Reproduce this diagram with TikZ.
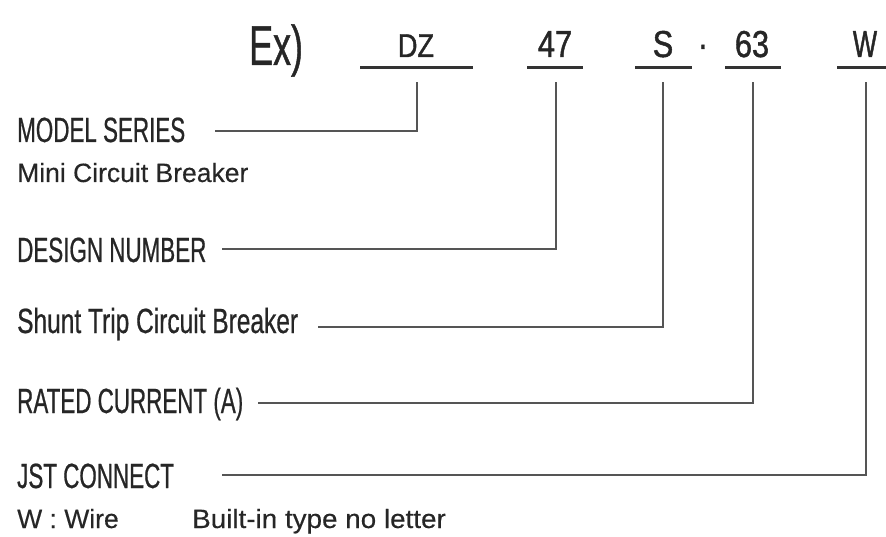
\documentclass[tikz,border=0pt]{standalone}
\usepackage{fontspec}
\setmainfont{Liberation Sans}
\newfontfamily\condA[FakeStretch=0.64,FakeBold=0.6]{Liberation Sans}
\newfontfamily\condS[FakeStretch=0.70,FakeBold=0.6]{Liberation Sans}
\newfontfamily\condB[FakeStretch=0.82,FakeBold=1.2]{Liberation Sans}
\newfontfamily\condW[FakeStretch=0.68,FakeBold=1.2]{Liberation Sans}
\newfontfamily\condE[FakeStretch=0.64,FakeBold=0.8]{Liberation Sans}
\newfontfamily\regf[FakeBold=0.3]{Liberation Sans}
\newfontfamily\regw[FakeStretch=1.05,FakeBold=0.3]{Liberation Sans}
\definecolor{txt}{HTML}{262626}
\definecolor{ln}{HTML}{555555}
\definecolor{ul}{HTML}{333333}
\begin{document}
\begin{tikzpicture}[x=1pt,y=-1pt,
  lbl/.style={anchor=base west,inner sep=0pt,text=txt,font=\condA\fontsize{35}{35}\selectfont},
  sub/.style={anchor=base west,inner sep=0pt,text=txt,font=\regf\fontsize{26.5}{26.5}\selectfont},
  code/.style={anchor=base,inner sep=0pt,text=txt},
  uline/.style={line width=3pt,draw=ul},
  conn/.style={line width=1.8pt,draw=ln}]
\useasboundingbox (0,0) rectangle (886,537);
% header
\node[anchor=base west,inner sep=0pt,text=txt,font=\condE\fontsize{56}{56}\selectfont] (ex) at (249,65) {Ex)};
\node[code,font=\condB\fontsize{33}{33}\selectfont] (dz) at (416,57) {DZ};
\node[code,font=\condB\fontsize{37.5}{37.5}\selectfont] (n47) at (555,57) {47};
\node[code,font=\condB\fontsize{37.5}{37.5}\selectfont] (s) at (663,57) {S};
\node[code,font=\condB\fontsize{37.5}{37.5}\selectfont] (dot) at (703,57) {·};
\node[code,font=\condB\fontsize{37.5}{37.5}\selectfont] (n63) at (752,57) {63};
\node[code,font=\condW\fontsize{37.5}{37.5}\selectfont] (w) at (865,57) {W};
% underlines
\draw[uline] (360,68) -- (473,68);
\draw[uline] (527,68) -- (583,68);
\draw[uline] (635,68) -- (692,68);
\draw[uline] (725,68) -- (781,68);
\draw[uline] (837,68) -- (886,68);
% connector tops
\coordinate (dzT) at (417,82);
\coordinate (n47T) at (556,82);
\coordinate (sT) at (663,82);
\coordinate (n63T) at (753,82);
\coordinate (wT) at (866,82);
% labels
\node[lbl] (ms) at (17,142) {MODEL SERIES};
\node[sub] (mcb) at (17,182) {Mini Circuit Breaker};
\node[lbl] (dn) at (17,262) {DESIGN NUMBER};
\node[lbl,font=\condS\fontsize{35}{35}\selectfont] (st) at (17,333) {Shunt Trip Circuit Breaker};
\node[lbl] (rc) at (17,413) {RATED CURRENT (A)};
\node[lbl] (jst) at (17,488) {JST CONNECT};
\node[sub] (wire) at (17,528) {W : Wire};
\node[sub,font=\regw\fontsize{26.5}{26.5}\selectfont] (bit) at (192,528) {Built-in type no letter};
% connector starts
\coordinate (msS) at (215,131);
\coordinate (dnS) at (222,249);
\coordinate (stS) at (318,327);
\coordinate (rcS) at (258,403);
\coordinate (jstS) at (222,475);
% connectors
\draw[conn] (msS) -| (dzT);
\draw[conn] (dnS) -| (n47T);
\draw[conn] (stS) -| (sT);
\draw[conn] (rcS) -| (n63T);
\draw[conn] (jstS) -| (wT);
\end{tikzpicture}
\end{document}
